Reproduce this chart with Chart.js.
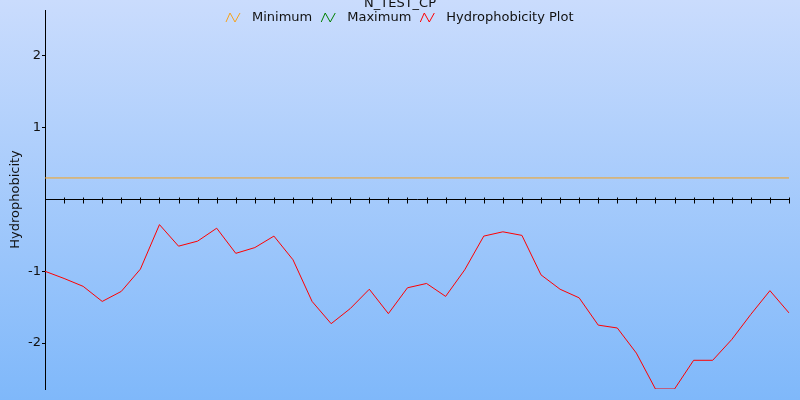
<!DOCTYPE html>
<html>
<head>
<meta charset="utf-8">
<script src="https://cdn.jsdelivr.net/npm/chart.js@4.4.0/dist/chart.umd.min.js"></script>
<style>
  html, body { margin: 0; padding: 0; }
  #wrap { width: 800px; height: 400px; }
</style>
</head>
<body>
<div id="wrap"><canvas id="chart"></canvas></div>
<script>
// residue positions along the sequence
const positions = ['1','2','3','4','5','6','7','8','9','10','11','12','13','14','15','16','17','18','19','20',
  '21','22','23','24','25','26','27','28','29','30','31','32','33','34','35','36','37','38','39','40'];

// hydrophobicity values
const hydro = [-1.00, -1.10, -1.21, -1.42, -1.28, -0.97, -0.35, -0.65, -0.58, -0.40,
  -0.75, -0.67, -0.51, -0.84, -1.42, -1.73, -1.52, -1.25, -1.59, -1.23,
  -1.17, -1.35, -0.98, -0.51, -0.45, -0.50, -1.05, -1.25, -1.37, -1.75,
  -1.79, -2.14, -2.64, -2.64, -2.24, -2.24, -1.95, -1.60, -1.27, -1.58];

// threshold levels
const minimumLevel = 0.3;

const yRange = [-2.64, 2.64];
const yTickValues = [-2, -1, 1, 2];

const FONT = 'DejaVu Sans';

// background gradient + title + legend + crossing ticks on the zero axis
const decorations = {
  id: 'decorations',
  beforeDraw(chart) {
    const { ctx, width, height } = chart;
    const g = ctx.createLinearGradient(0, 0, 0, height);
    g.addColorStop(0, '#cadcfd');
    g.addColorStop(1, '#7fb8fa');
    ctx.save();
    ctx.fillStyle = g;
    ctx.fillRect(0, 0, width, height);
    ctx.restore();
  },
  afterDraw(chart) {
    const { ctx } = chart;
    const xs = chart.scales.x, ys = chart.scales.y;
    ctx.save();
    // tick marks across the zero line
    const y0 = Math.round(ys.getPixelForValue(0)) + 0.5;
    ctx.strokeStyle = '#000';
    ctx.lineWidth = 1;
    ctx.beginPath();
    for (let i = 1; i < positions.length; i++) {
      const x = Math.round(xs.getPixelForTick(i)) + 0.5;
      ctx.moveTo(x, y0 - 3);
      ctx.lineTo(x, y0 + 3);
    }
    ctx.stroke();

    // title
    ctx.font = '13px "' + FONT + '"';
    ctx.fillStyle = '#111';
    ctx.textAlign = 'center';
    ctx.textBaseline = 'middle';
    ctx.fillText('N_TEST_CP', 400, 4);

    // legend
    const items = chart.data.datasets.map(d => ({ label: d.label, color: d.borderColor }));
    const iconW = 14, iconGap = 12, itemGap = 9;
    let total = 0;
    items.forEach((it, i) => {
      it.w = ctx.measureText(it.label).width;
      total += iconW + iconGap + it.w + (i < items.length - 1 ? itemGap : 0);
    });
    let x = Math.round(400 - total / 2);
    const ly = 18;
    ctx.textAlign = 'left';
    items.forEach(it => {
      ctx.strokeStyle = it.color;
      ctx.beginPath();
      ctx.moveTo(x, ly + 4);
      ctx.lineTo(x + 4, ly - 5);
      ctx.lineTo(x + 9, ly + 4);
      ctx.lineTo(x + 14, ly - 5);
      ctx.stroke();
      x += iconW + iconGap;
      ctx.fillStyle = '#111';
      ctx.fillText(it.label, x, ly);
      x += it.w + itemGap;
    });
    ctx.restore();
  }
};

new Chart(document.getElementById('chart'), {
  type: 'line',
  data: {
    labels: positions,
    datasets: [
      {
        label: 'Minimum',
        data: [{ x: positions[0], y: minimumLevel }, { x: positions[positions.length - 1], y: minimumLevel }],
        borderColor: '#f7a21b',
        borderWidth: 1,
        pointRadius: 0
      },
      {
        label: 'Maximum',
        data: [],
        borderColor: '#008000',
        borderWidth: 1,
        pointRadius: 0
      },
      {
        label: 'Hydrophobicity Plot',
        data: hydro,
        borderColor: '#ff0000',
        borderWidth: 1,
        pointRadius: 0,
        tension: 0
      }
    ]
  },
  options: {
    responsive: true,
    maintainAspectRatio: false,
    animation: false,
    layout: { padding: { top: 10, right: 11, bottom: 11, left: 0 } },
    plugins: {
      legend: { display: false },
      title: { display: false },
      tooltip: { enabled: false }
    },
    scales: {
      x: {
        type: 'category',
        position: { y: 0 },
        grid: { display: false },
        border: { color: '#000', width: 1 },
        ticks: { display: false }
      },
      y: {
        min: yRange[0],
        max: yRange[1],
        afterBuildTicks(scale) {
          scale.ticks = yTickValues.map(v => ({ value: v }));
        },
        afterFit(scale) { scale.width = 45; },
        grid: { drawOnChartArea: false, tickLength: 3, color: '#000' },
        border: { color: '#000', width: 1 },
        ticks: {
          padding: 1,
          color: '#111',
          font: { family: FONT, size: 13 }
        },
        title: {
          display: true,
          text: 'Hydrophobicity',
          color: '#111',
          font: { family: FONT, size: 13 },
          padding: { top: 8, bottom: 2 }
        }
      }
    }
  },
  plugins: [decorations]
});
</script>
</body>
</html>
